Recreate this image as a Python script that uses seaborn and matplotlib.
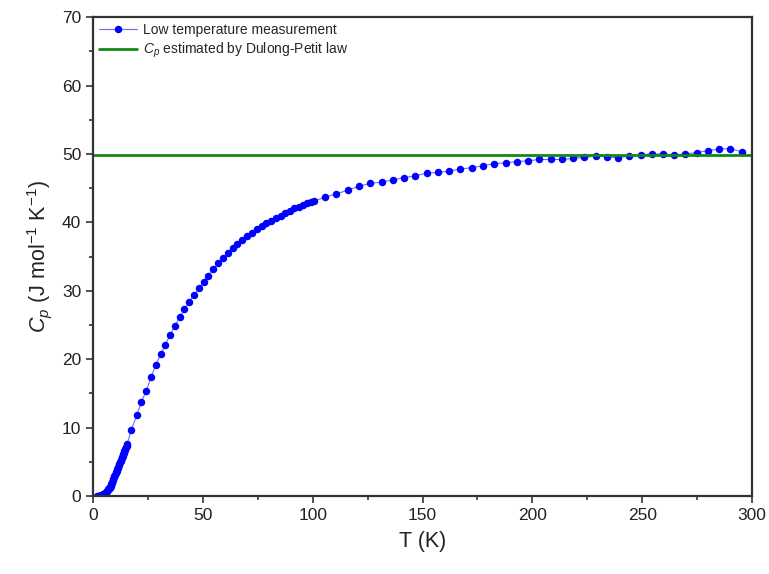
import numpy as np
import pandas as pd
import matplotlib
matplotlib.use("Agg")
import matplotlib.pyplot as plt
import seaborn as sns
from matplotlib.ticker import MultipleLocator

# temperatura (K) y capacidad calorífica (J mol-1 K-1)
t_bajo = [2.0, 2.25, 2.5, 2.75, 3.0, 3.25, 3.5, 3.75, 4.0, 4.25, 4.5, 4.75, 5.0, 5.25,
          5.5, 5.75, 6.0, 6.25, 6.5, 6.75, 7.0, 7.25, 7.5, 7.75, 8.0, 8.25, 8.5, 8.75,
          9.0, 9.25, 9.5, 9.75, 10.0, 10.25, 10.5, 10.75, 11.0, 11.25, 11.5, 11.75,
          12.0, 12.25, 12.5, 12.75, 13.0, 13.25, 13.5, 13.75, 14.0, 14.25, 14.5, 14.75,
          15.0, 15.25, 15.5]
cp_bajo = [0.01, 0.015, 0.02, 0.025, 0.03, 0.04, 0.06, 0.08, 0.10, 0.13, 0.17, 0.22, 0.28, 0.34,
           0.41, 0.48, 0.56, 0.65, 0.75, 0.86, 0.98, 1.10, 1.23, 1.37, 1.52, 1.70, 1.90, 2.10,
           2.30, 2.50, 2.70, 2.90, 3.10, 3.30, 3.50, 3.70, 3.90, 4.10, 4.30, 4.50,
           4.70, 4.90, 5.10, 5.30, 5.50, 5.70, 5.90, 6.10, 6.30, 6.50, 6.70, 6.90,
           7.10, 7.30, 7.55]

t_medio = [17.4, 19.9, 22.0, 24.1, 26.4, 28.5, 30.8, 32.9, 35.0, 37.2, 39.4, 41.6, 43.8,
           46.1, 48.2, 50.4, 52.5, 54.8, 57.0, 59.3, 61.6, 63.6, 65.7, 68.0, 70.2, 72.2,
           74.5, 76.8, 78.7, 80.9, 83.2, 85.4, 87.4, 89.7, 91.6, 93.8, 95.7, 97.5, 99.2, 100.7]
cp_medio = [9.65, 11.8, 13.7, 15.3, 17.35, 19.15, 20.7, 22.1, 23.5, 24.85, 26.1, 27.3, 28.4,
            29.4, 30.4, 31.3, 32.2, 33.2, 34.0, 34.75, 35.5, 36.2, 36.8, 37.4, 38.0, 38.5,
            39.0, 39.5, 39.9, 40.25, 40.6, 41.0, 41.4, 41.7, 42.05, 42.3, 42.6, 42.8, 43.0, 43.1]

t_alto = [105.6, 110.6, 115.9, 121.2, 126.2, 131.4, 136.4, 141.6, 146.6, 151.9, 157.2,
          162.2, 167.2, 172.4, 177.7, 182.7, 187.8, 192.8, 198.0, 203.1, 208.3, 213.3,
          218.3, 223.6, 228.8, 233.8, 238.8, 244.0, 249.3, 254.3, 259.3, 264.4, 269.5,
          274.8, 279.8, 285.0, 290.0, 295.5]
cp_alto = [43.7, 44.15, 44.7, 45.3, 45.7, 45.9, 46.2, 46.55, 46.8, 47.2, 47.3,
           47.5, 47.8, 48.0, 48.3, 48.6, 48.7, 48.9, 49.0, 49.2, 49.2, 49.2,
           49.35, 49.5, 49.7, 49.6, 49.45, 49.7, 49.9, 50.0, 50.0, 49.9, 50.0,
           50.2, 50.5, 50.7, 50.8, 50.3]

cp_dulong_petit = 49.88

df = pd.DataFrame({
    'T': t_bajo + t_medio + t_alto,
    'Cp': cp_bajo + cp_medio + cp_alto,
})

sns.set_style("ticks")
plt.rcParams['font.family'] = ['Liberation Sans', 'DejaVu Sans']
plt.rcParams['mathtext.fontset'] = 'custom'
plt.rcParams['mathtext.rm'] = 'Liberation Sans'
plt.rcParams['mathtext.it'] = 'Liberation Sans:italic'

fig = plt.figure(figsize=(7.69, 5.74), dpi=100)
ax = fig.add_axes([0.121, 0.136, 0.857, 0.834])

sns.lineplot(data=df, x='T', y='Cp', ax=ax, color='#6b6bff', linewidth=0.8,
             marker='o', markersize=5.4, markeredgewidth=0,
             markerfacecolor='blue', markeredgecolor='blue',
             label='Low temperature measurement', sort=False, estimator=None)
ax.axhline(cp_dulong_petit, color='#138a13', linewidth=2,
           label='$C_p$ estimated by Dulong-Petit law')

ax.set_xlim(0, 300)
ax.set_ylim(0, 70)
ax.xaxis.set_major_locator(MultipleLocator(50))
ax.xaxis.set_minor_locator(MultipleLocator(25))
ax.yaxis.set_major_locator(MultipleLocator(10))
ax.yaxis.set_minor_locator(MultipleLocator(5))
ax.tick_params(which='major', direction='out', length=5, width=1.2,
               labelsize=12.5, color='#333333', labelcolor='#222222')
ax.tick_params(which='minor', direction='out', length=3, width=1.2, color='#333333')

for lado in ['top', 'right', 'left', 'bottom']:
    ax.spines[lado].set_visible(True)
    ax.spines[lado].set_linewidth(1.6)
    ax.spines[lado].set_color('#333333')

ax.set_xlabel('T (K)', fontsize=15.5, color='#222222', labelpad=6)
ax.set_ylabel('$C_p$ (J mol$^{-1}$ K$^{-1}$)', fontsize=15.5, color='#222222', labelpad=6)

ax.legend(loc='upper left', frameon=False, fontsize=10, handlelength=2.8,
          handletextpad=0.4, borderaxespad=0.1, labelspacing=0.3,
          borderpad=0.3)

fig.savefig('out.png', dpi=100)
